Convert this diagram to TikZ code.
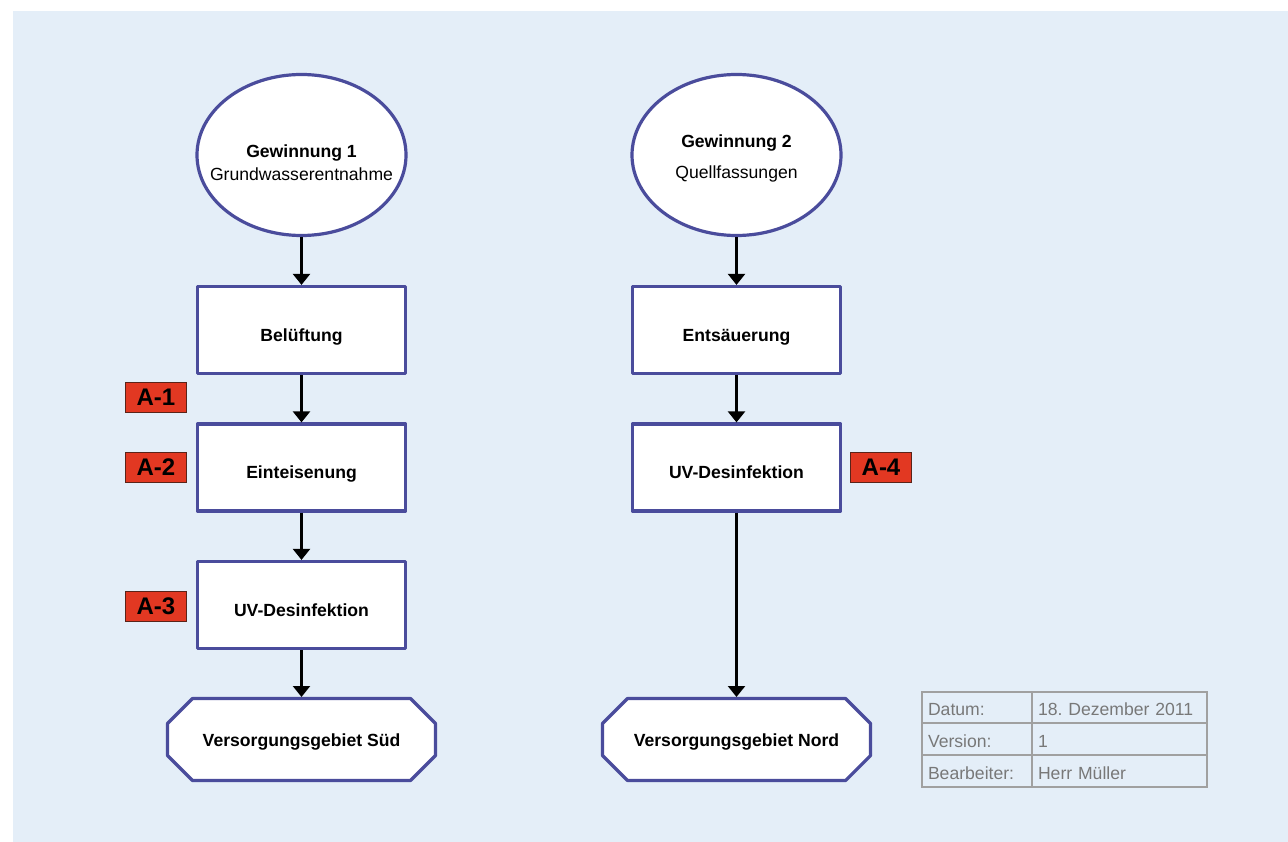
\documentclass[tikz,border=0pt]{standalone}
\usepackage{fontspec}
\setmainfont{Liberation Sans}
\frenchspacing
\usetikzlibrary{shapes.geometric,arrows.meta}
\definecolor{bgblue}{RGB}{228,238,248}
\definecolor{bord}{RGB}{74,76,156}
\definecolor{redlab}{RGB}{226,56,34}
\definecolor{redbord}{RGB}{90,35,25}
\definecolor{tabline}{RGB}{160,160,160}
\definecolor{tabtext}{RGB}{120,120,120}
\pgfdeclarelayer{back}
\pgfdeclarelayer{bg}
\pgfsetlayers{back,bg,main}
\begin{document}
\begin{tikzpicture}[x=1pt,y=-1pt,
  fb/.style={font=\fontsize{17.6pt}{21pt}\selectfont\bfseries},
  fr/.style={font=\fontsize{17.6pt}{21pt}\selectfont},
  term/.style={ellipse, draw=bord, line width=3.2pt, fill=white, minimum width=209pt, minimum height=161pt, inner sep=0pt},
  lblb/.style={fb, inner sep=0pt, text height=12.7pt, text depth=0pt},
  lblr/.style={fr, inner sep=0pt, text height=12.7pt, text depth=0pt},
  proc/.style={rectangle, draw=bord, line width=3.2pt, line join=round, fill=white, minimum width=208pt, minimum height=87pt, inner sep=0pt, fb, text height=22.7pt, text depth=0pt},
  octnode/.style={rectangle, draw=none, minimum width=268pt, minimum height=82pt, inner sep=0pt, outer sep=0pt, fb, text height=13.7pt, text depth=0pt},
  octo/.style={draw=bord, line width=3.2pt, line join=round, fill=white},
  redtag/.style={rectangle, fill=redlab, draw=redbord, line width=0.8pt, minimum width=61pt, minimum height=30pt, inner sep=0pt, font=\fontsize{24pt}{28pt}\selectfont\bfseries},
  arr/.style={line width=2.3pt, -{Triangle[width=17pt,length=11pt]}},
  cell/.style={rectangle, draw=tabline, line width=1.2pt, inner xsep=6pt, inner ysep=0pt, align=left, fr, text=tabtext, text height=16.7pt, text depth=0pt}
]
\useasboundingbox (0,0) rectangle (1288,842);
\begin{pgfonlayer}{back}
\fill[bgblue] (13,11) rectangle (1288,842);
\end{pgfonlayer}

% left column
\node[term, label={[lblb,name=e1a,yshift=4pt]center:Gewinnung 1}, label={[lblr,name=e1b,yshift=-19pt]center:Grundwasserentnahme}] (e1) at (301.5,155) {};
\node[proc] (b1) at (301.5,330) {Belüftung};
\node[proc] (b2) at (301.5,467.5) {Einteisenung};
\node[proc] (b3) at (301.5,605) {UV-Desinfektion};
\node[octnode] (s) at (301.5,739.5) {Versorgungsgebiet Süd};

% right column
\node[term, label={[lblb,name=e2a,yshift=13.5pt]center:Gewinnung 2}, label={[lblr,name=e2b,yshift=-17.5pt]center:Quellfassungen}] (e2) at (736.5,155) {};
\node[proc] (c1) at (736.5,330) {Entsäuerung};
\node[proc] (c2) at (736.5,467.5) {UV-Desinfektion};
\node[octnode] (n) at (736.5,739.5) {Versorgungsgebiet Nord};

\begin{pgfonlayer}{bg}
\foreach \o in {s,n}
  \draw[octo] ([xshift=25pt]\o.north west) -- ([xshift=-25pt]\o.north east)
    -- ([yshift=-25pt]\o.north east) -- ([yshift=25pt]\o.south east)
    -- ([xshift=-25pt]\o.south east) -- ([xshift=25pt]\o.south west)
    -- ([yshift=25pt]\o.south west) -- ([yshift=-25pt]\o.north west) -- cycle;
\end{pgfonlayer}

% red tags
\node[redtag] (a1) at (156,397.5) {A-1};
\node[redtag] (a2) at (156,467.5) {A-2};
\node[redtag] (a3) at (156,606) {A-3};
\node[redtag] (a4) at (881,467.5) {A-4};

% connectors
\draw[arr] (e1) -- (b1);
\draw[arr] (b1) -- (b2);
\draw[arr] (b2) -- (b3);
\draw[arr, shorten >=1.5pt] (b3) -- (s);
\draw[arr] (e2) -- (c1);
\draw[arr] (c1) -- (c2);
\draw[arr, shorten >=1.5pt] (c2) -- (n);

% info table
\node[cell, text width=98pt, minimum height=31pt] (t11) at (977,707.5) {Datum:};
\node[cell, text width=163pt, minimum height=31pt] (t12) at (1119.5,707.5) {18. Dezember 2011};
\node[cell, text width=98pt, minimum height=32pt] (t21) at (977,739) {Version:};
\node[cell, text width=163pt, minimum height=32pt] (t22) at (1119.5,739) {1};
\node[cell, text width=98pt, minimum height=32pt] (t31) at (977,771) {Bearbeiter:};
\node[cell, text width=163pt, minimum height=32pt] (t32) at (1119.5,771) {Herr Müller};
\end{tikzpicture}
\end{document}
